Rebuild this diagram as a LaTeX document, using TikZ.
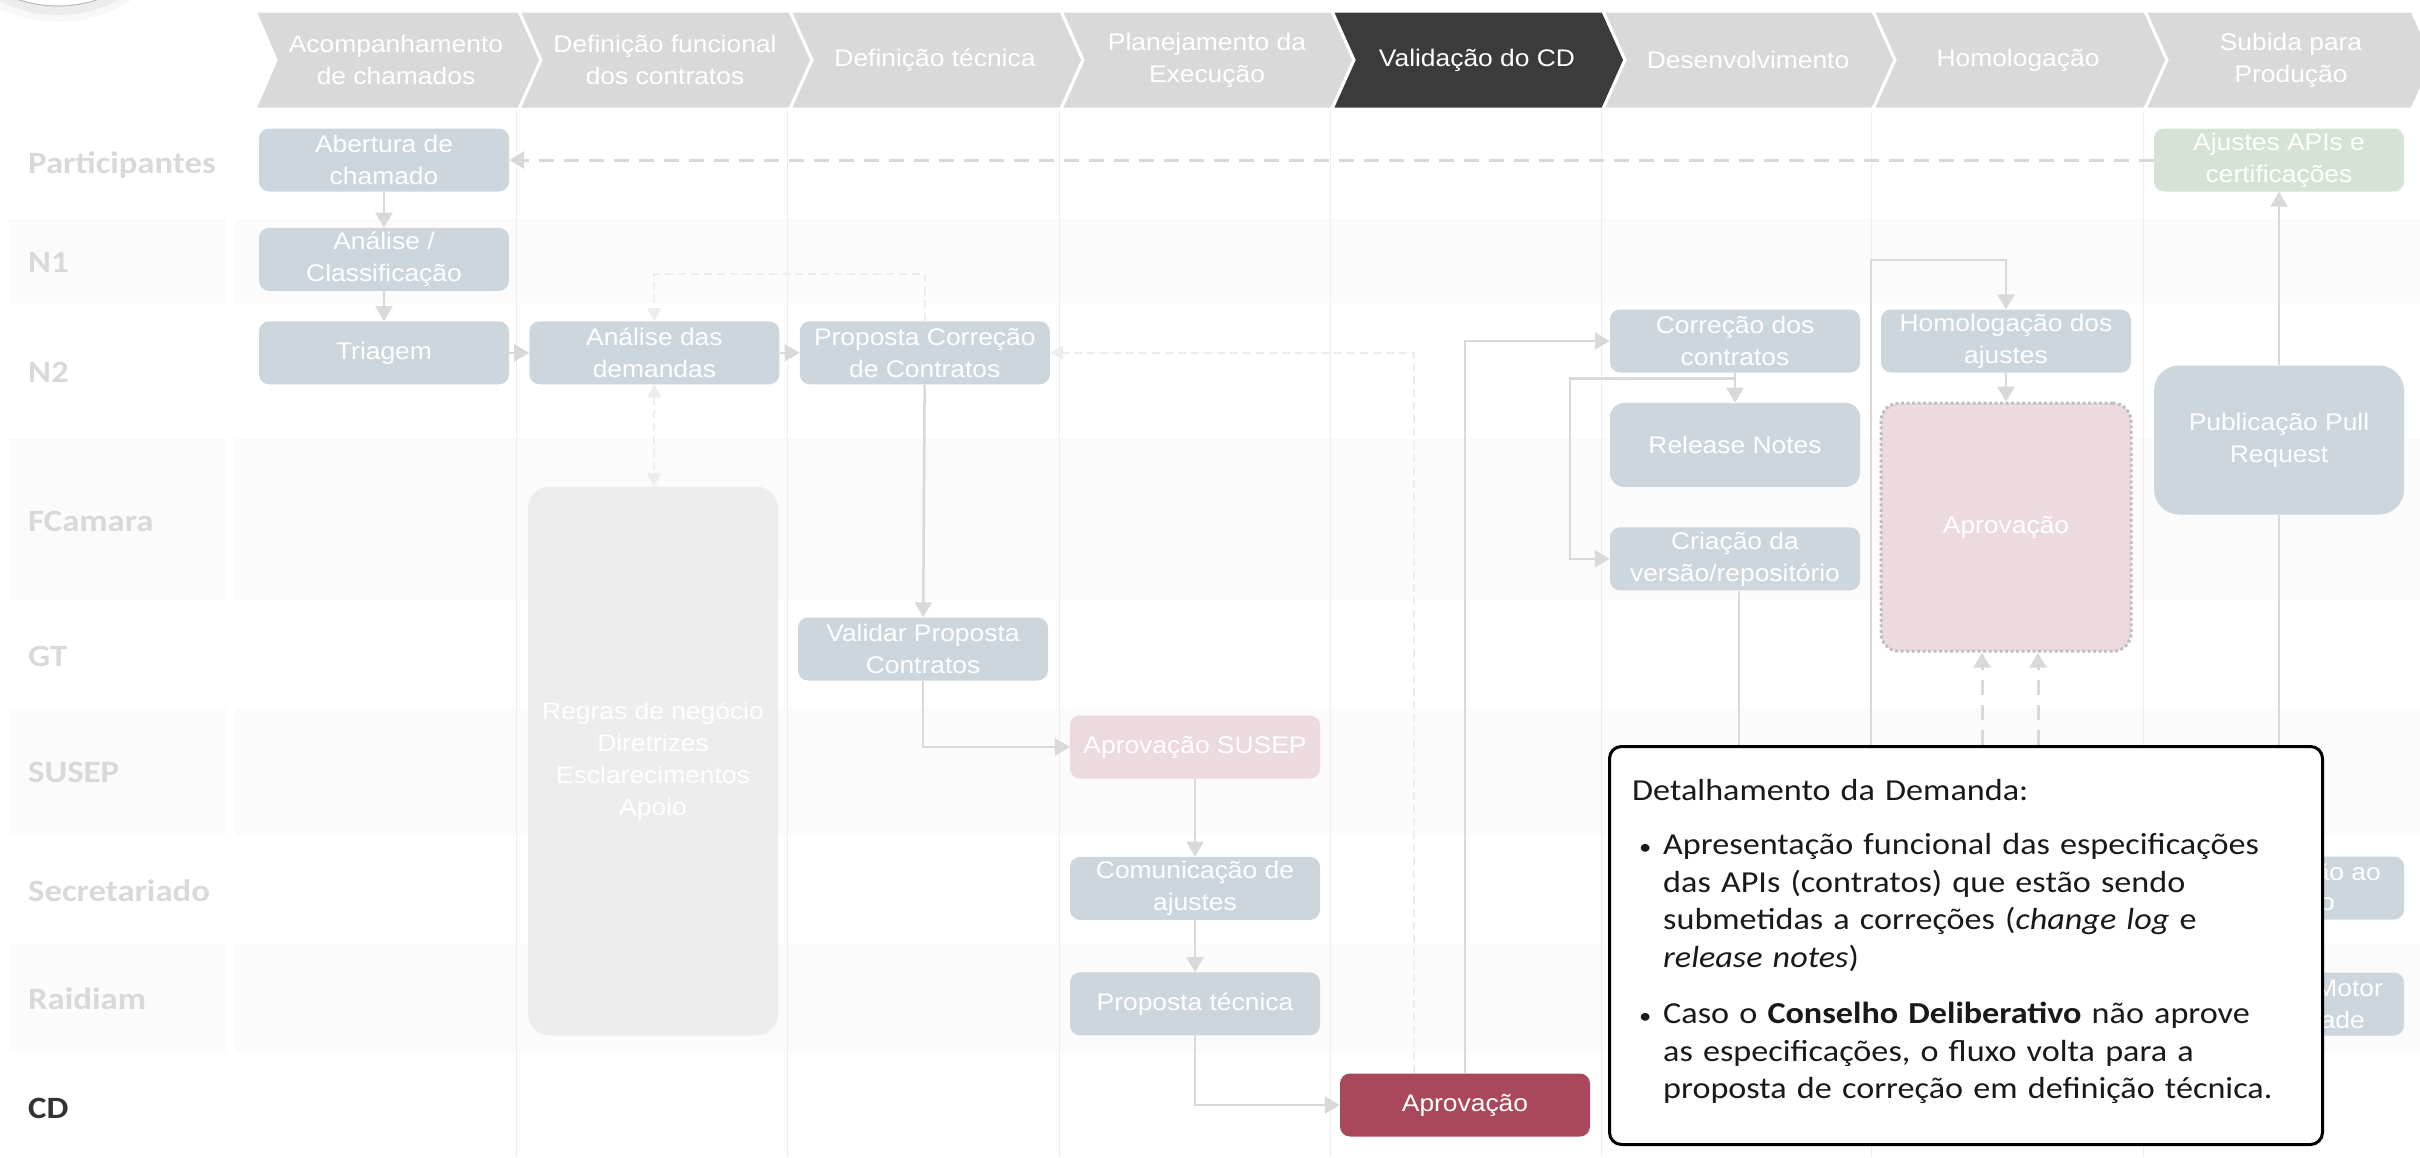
\documentclass[tikz,border=0pt]{standalone}
\usepackage{fontspec}
\usetikzlibrary{arrows.meta,positioning,calc}
\newfontfamily\boxfont[FakeStretch=1.1]{Liberation Sans}
\newfontfamily\lanefont[FakeStretch=1.12]{Carlito}
\definecolor{stepgray}{HTML}{D9D9D9}
\definecolor{stepdark}{HTML}{3B3B3B}
\definecolor{procblue}{HTML}{CDD5DD}
\definecolor{procpink}{HTML}{ECDADF}
\definecolor{procgreen}{HTML}{D4E3D5}
\definecolor{cdred}{HTML}{A8485A}
\definecolor{flowgray}{HTML}{D9D9D9}
\definecolor{bandgray}{HTML}{FBFBFB}
\definecolor{rulegray}{HTML}{EEEEEE}
\definecolor{notegray}{HTML}{EDEDED}
\definecolor{lanedark}{HTML}{333333}

\begin{document}
\begin{tikzpicture}[x=1pt, y=-1pt,
        every node/.style={inner sep=0pt},
        steptext/.style={align=center, text=white, font=\boxfont\fontsize{24}{32}\selectfont},
        lane/.style={anchor=west, text=stepgray, font=\lanefont\bfseries\fontsize{31}{31}\selectfont},
        procbox/.style={fill=procblue, rounded corners=10pt, minimum width=250pt, minimum height=63pt,
            align=center, text=white, font=\boxfont\fontsize{24}{32}\selectfont},
        flow/.style={draw=flowgray, line width=2.5pt, -{Triangle[length=15pt,width=17pt]}},
        bigdash/.style={flow, line width=3pt, dash pattern=on 15pt off 10pt},
        lightdash/.style={draw=notegray, line width=2pt, dash pattern=on 8pt off 5pt,
            -{Triangle[length=13pt,width=14pt]}}]
            \useasboundingbox (0,0) rectangle (2420,1157);
            \fill[gray, opacity=.06] (58,-112) circle (134pt);
            \fill[gray, opacity=.10] (58,-115) circle (130pt);
            \filldraw[fill=white, draw=gray!55, line width=1pt] (58,-120) circle (126pt);

            \fill[bandgray] (9,218) rectangle (226,303) (235,218) rectangle (2420,303)
                (9,438) rectangle (226,600) (235,438) rectangle (2420,600)
                (9,708) rectangle (226,835) (235,708) rectangle (2420,835)
                (9,944) rectangle (226,1052) (235,944) rectangle (2420,1052);
            \draw[rulegray, line width=1pt] (516,109) -- (516,1157) (787,109) -- (787,1157)
                (1059,109) -- (1059,1157) (1330,109) -- (1330,1157) (1601,109) -- (1601,1157)
                (1871,109) -- (1871,1157) (2143,109) -- (2143,1157);

            \filldraw[fill=stepgray, draw=white, line width=3pt] (255,11) -- (519,11) -- (541,60) -- (519,109) -- (255,109) -- (276,60) -- cycle;
            \filldraw[fill=stepgray, draw=white, line width=3pt] (519,11) -- (790,11) -- (812,60) -- (790,109) -- (519,109) -- (541,60) -- cycle;
            \filldraw[fill=stepgray, draw=white, line width=3pt] (790,11) -- (1061,11) -- (1083,60) -- (1061,109) -- (790,109) -- (812,60) -- cycle;
            \filldraw[fill=stepgray, draw=white, line width=3pt] (1061,11) -- (1332,11) -- (1354,60) -- (1332,109) -- (1061,109) -- (1083,60) -- cycle;
            \filldraw[fill=stepdark, draw=white, line width=3pt] (1332,11) -- (1603,11) -- (1625,60) -- (1603,109) -- (1332,109) -- (1354,60) -- cycle;
            \filldraw[fill=stepgray, draw=white, line width=3pt] (1603,11) -- (1873,11) -- (1895,60) -- (1873,109) -- (1603,109) -- (1625,60) -- cycle;
            \filldraw[fill=stepgray, draw=white, line width=3pt] (1873,11) -- (2145,11) -- (2167,60) -- (2145,109) -- (1873,109) -- (1895,60) -- cycle;
            \filldraw[fill=stepgray, draw=white, line width=3pt] (2145,11) -- (2412,11) -- (2434,60) -- (2412,109) -- (2145,109) -- (2167,60) -- cycle;
            \node[steptext] (stepa) at (396,60) {Acompanhamento\\de chamados};
            \node[steptext] (stepb) at (665,60) {Definição funcional\\dos contratos};
            \node[steptext] (stepc) at (935,60) {Definição técnica};
            \node[steptext] (stepd) at (1207,60) {Planejamento da\\Execução};
            \node[steptext] (stepe) at (1477,60) {Validação do CD};
            \node[steptext] (stepf) at (1748,60) {Desenvolvimento};
            \node[steptext] (stepg) at (2018,60) {Homologação};
            \node[steptext] (steph) at (2291,60) {Subida para\\Produção};

            \node[lane] (lpart) at (28,165) {Participantes};
            \node[lane] (ln1) at (28,262) {N1};
            \node[lane] (ln2) at (28,372) {N2};
            \node[lane] (lfc) at (28,521) {FCamara};
            \node[lane] (lgt) at (28,656) {GT};
            \node[lane] (lsusep) at (28,772) {SUSEP};
            \node[lane] (lsec) at (28,891) {Secretariado};
            \node[lane] (lrai) at (28,999) {Raidiam};
            \node[lane, text=lanedark] (lcd) at (28,1108) {CD};

            \node[procbox] (abertura) at (384,160) {Abertura de\\chamado};
            \node[procbox, below=36pt of abertura] (analise) {Análise /\\Classificação};
            \node[procbox, below=30pt of analise] (triagem) {Triagem};
            \node[procbox, right=20pt of triagem] (demandas) {Análise das\\demandas};
            \node[procbox, right=20pt of demandas] (propcorr) {Proposta Correção\\de Contratos};
            \node[procbox, fill=notegray, minimum height=549pt, rounded corners=22pt] (regras) at (653,761)
                {Regras de negócio\\Diretrizes\\Esclarecimentos\\Apoio};
            \node[procbox] (validar) at (923,649) {Validar Proposta\\Contratos};
            \node[procbox, fill=procpink] (apsusep) at (1195,747) {Aprovação SUSEP};
            \node[procbox, below=78pt of apsusep] (comunic) {Comunicação de\\ajustes};
            \node[procbox, below=52pt of comunic] (proptec) {Proposta técnica};
            \node[procbox, fill=cdred] (apcd) at (1465,1105) {Aprovação};
            \node[procbox] (correcao) at (1735,341) {Correção dos\\contratos};
            \node[procbox, minimum height=84pt, rounded corners=14pt, below=30pt of correcao] (release) {Release Notes};
            \node[procbox, below=40pt of release] (criacao) {Criação da\\versão/repositório};
            \node[procbox] (homolog) at (2006,341) {Homologação dos\\ajustes};
            \node[procbox, fill=procpink, draw=gray!50, line width=3pt, dash pattern=on 3pt off 2.5pt,
                minimum height=248pt, rounded corners=18pt, below=29pt of homolog] (aphomol) {Aprovação};
            \node[procbox, fill=procgreen] (ajustes) at (2279,160) {Ajustes APIs e\\certificações};
            \node[procbox, minimum height=149pt, rounded corners=25pt] (publica) at (2279,440) {Publicação Pull\\Request};
            \node[procbox] (secbox) at (2279,888) {};
            \node[procbox] (raibox) at (2279,1004) {};
            \node[steptext, anchor=east] (secfraga) at (2381,872) {ão ao};
            \node[steptext, anchor=east] (secfragb) at (2335,904) {o};
            \node[steptext, anchor=east] (raifraga) at (2383,988) {Motor};
            \node[steptext, anchor=east] (raifragb) at (2365,1020) {ade};

            \coordinate (loopstart) at ($(correcao.south)+(0,6)$);
            \coordinate (devend) at (1739,870);
            \coordinate (homstart) at (1871,870);
            \coordinate (votea) at (1982,870);
            \coordinate (voteb) at (2038,870);

            \draw[bigdash] (ajustes) -- (abertura);
            \draw[flow] (abertura) -- (analise);
            \draw[flow] (analise) -- (triagem);
            \draw[flow] (triagem) -- (demandas);
            \draw[flow] (demandas) -- (propcorr);
            \draw[lightdash] (propcorr.north) -- ++(0,-47) -| (demandas.north);
            \draw[lightdash, {Triangle[length=13pt,width=14pt]}-{Triangle[length=13pt,width=14pt]}] (demandas) -- (regras);
            \draw[flow] (propcorr) -- (validar);
            \draw[flow] (validar) |- (apsusep);
            \draw[flow] (apsusep) -- (comunic);
            \draw[flow] (comunic) -- (proptec);
            \draw[flow] (proptec) |- (apcd);
            \draw[flow] (apcd) |- (correcao);
            \draw[lightdash] ([xshift=-51pt]apcd.north) |- (propcorr);
            \draw[flow] (correcao) -- (release);
            \draw[flow] (loopstart) -- ++(-165,0) |- (criacao);
            \draw[flow, -] (criacao.south -| devend) -- (devend);
            \draw[flow] (homstart) -- (1871,260) -| (homolog);
            \draw[flow] (homolog) -- (aphomol);
            \draw[bigdash] (votea) -- (votea |- aphomol.south);
            \draw[bigdash] (voteb) -- (voteb |- aphomol.south);
            \draw[flow] (publica) -- (ajustes);
            \draw[flow] (publica) -- (secbox);

            \node[draw=black, fill=white, line width=3pt, rounded corners=12pt, minimum width=713pt,
                minimum height=398pt, anchor=north west] (detalhe) at (1608,745) {};
            \node[anchor=north west, text width=690pt, align=left, text=black!90,
                font=\lanefont\fontsize{30.5}{37.5}\selectfont] (detalhetxt) at (1632,779)
                {Detalhamento da Demanda:\\[17pt]
                \hspace*{7pt}\makebox[24pt][l]{\fontsize{22}{22}\selectfont•}Apresentação funcional das especificações\\
                \hspace*{31pt}das APIs (contratos) que estão sendo\\
                \hspace*{31pt}submetidas a correções (\textit{change log} e\\
                \hspace*{31pt}\textit{release notes})\\[19pt]
                \hspace*{7pt}\makebox[24pt][l]{\fontsize{22}{22}\selectfont•}Caso o \textbf{Conselho Deliberativo} não aprove\\
                \hspace*{31pt}as especificações, o fluxo volta para a\\
                \hspace*{31pt}proposta de correção em definição técnica.};
        \end{tikzpicture}
\end{document}
